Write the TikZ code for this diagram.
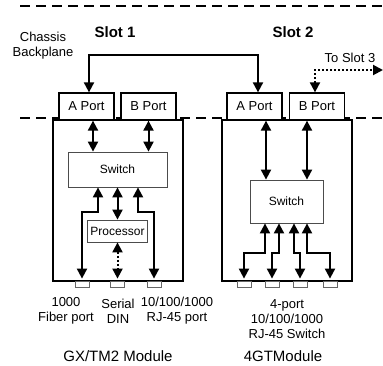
\documentclass[tikz,border=0pt]{standalone}
\usepackage{fontspec}
\setmainfont{Liberation Sans}
\usetikzlibrary{arrows.meta,positioning}
\tikzset{
  module/.style={draw,line width=1.6pt,fill=white,minimum width=130pt,minimum height=161pt,inner sep=0pt},
  port/.style={draw,line width=1.3pt,fill=white,minimum width=55pt,minimum height=27pt,inner sep=0pt,font=\fontsize{13}{15}\selectfont},
  unit/.style={draw=black!70,line width=0.8pt,fill=white,inner sep=0pt,font=\fontsize{12}{14}\selectfont},
  jack/.style={draw=black!60,line width=0.8pt,minimum width=14pt,minimum height=6pt,inner sep=0pt},
  wire/.style={line width=2pt,{Triangle[width=10pt,length=10pt]}-{Triangle[width=10pt,length=10pt]}},
  note/.style={align=center,font=\fontsize{13}{15}\selectfont},
  title/.style={font=\fontsize{15}{18}\selectfont\bfseries},
  caption/.style={inner sep=1pt,font=\fontsize{15}{18}\selectfont},
  bus/.style={line width=1.6pt,dash pattern=on 10pt off 6pt}
}
\begin{document}
\begin{tikzpicture}[x=1pt,y=-1pt]
\useasboundingbox (0,0) rectangle (383,365);
\draw[bus] (20,6) -- (383,6);
\draw[bus] (20,118) -- (383,118);

\node[title] (t1) at (115,32) {Slot 1};
\node[title] (t2) at (293,32) {Slot 2};
\node[note] (cb) at (43,46) {Chassis\\Backplane};

% modules
\node[module] (m1) at (118,200.5) {};
\node[module] (m2) at (287,200.5) {};
\node[port] (a1) at (86.5,106.5) {A Port};
\node[port] (b1) at (148.5,106.5) {B Port};
\node[port] (a2) at (254.5,106.5) {A Port};
\node[port] (b2) at (317,106.5) {B Port};
\node[unit,minimum width=99pt,minimum height=35pt] (s1) at (117.5,169.5) {Switch};
\node[unit,minimum width=60pt,minimum height=22pt] (p1) at (117.5,231) {Processor};
\node[unit,minimum width=73pt,minimum height=43pt] (s2) at (286.5,201.5) {Switch};
\foreach \x/\n in {82/1,117.5/2,154/3,244/4,272/5,300/6,330/7}
  \node[jack] (j\n) at (\x,284) {};

% backplane
\draw[wire] ([xshift=2.5pt]a1.north) -- ++(0,-37) -| ([xshift=3.5pt]a2.north);
\coordinate (s3) at (383,70);
\draw[wire,dotted] ([xshift=-2pt]b2.north) |- (s3);
\node[note] (ts3) at (350,58) {To Slot 3};

% slot 1
\draw[wire] ([xshift=6.5pt]a1.south) -- ([xshift=6.5pt]a1.south |- s1.north);
\draw[wire] (b1.south) -- (b1.south |- s1.north);
\draw[wire] ([xshift=-19.5pt]s1.south) -- ++(0,25) -| ([yshift=2pt]j1.north);
\draw[wire] (p1.north |- s1.south) -- (p1.north);
\draw[wire,dotted] (p1.south) -- ([yshift=2pt]j2.north);
\draw[wire] ([xshift=20.5pt]s1.south) -- ++(0,25) -| ([yshift=2pt]j3.north);

% slot 2
\draw[wire] ([xshift=11.5pt]a2.south) -- ([xshift=11.5pt]a2.south |- s2.north);
\draw[wire] ([xshift=-10pt]b2.south) -- ([xshift=-10pt]b2.south |- s2.north);
\draw[wire] ([xshift=-21.5pt]s2.south) -- ++(0,30) -| ([yshift=2pt]j4.north);
\draw[wire] ([xshift=-7.5pt]s2.south) -- ++(0,30) -| ([yshift=2pt]j5.north);
\draw[wire] ([xshift=7.5pt]s2.south) -- ++(0,30) -| ([yshift=2pt]j6.north);
\draw[wire] ([xshift=20.5pt]s2.south) -- ++(0,30) -| ([yshift=2pt]j7.north);

% captions
\node[note] (f1) at (66,311) {1000\\Fiber port};
\node[note] (f2) at (118,311) {Serial\\DIN};
\node[note] (f3) at (177,311) {10/100/1000\\RJ-45 port};
\node[note] (f4) at (287,319) {4-port\\10/100/1000\\RJ-45 Switch};
\node[caption] (c1) at (118,356) {GX/TM2 Module};
\node[caption] (c2) at (283,356) {4GTModule};
\end{tikzpicture}
\end{document}
